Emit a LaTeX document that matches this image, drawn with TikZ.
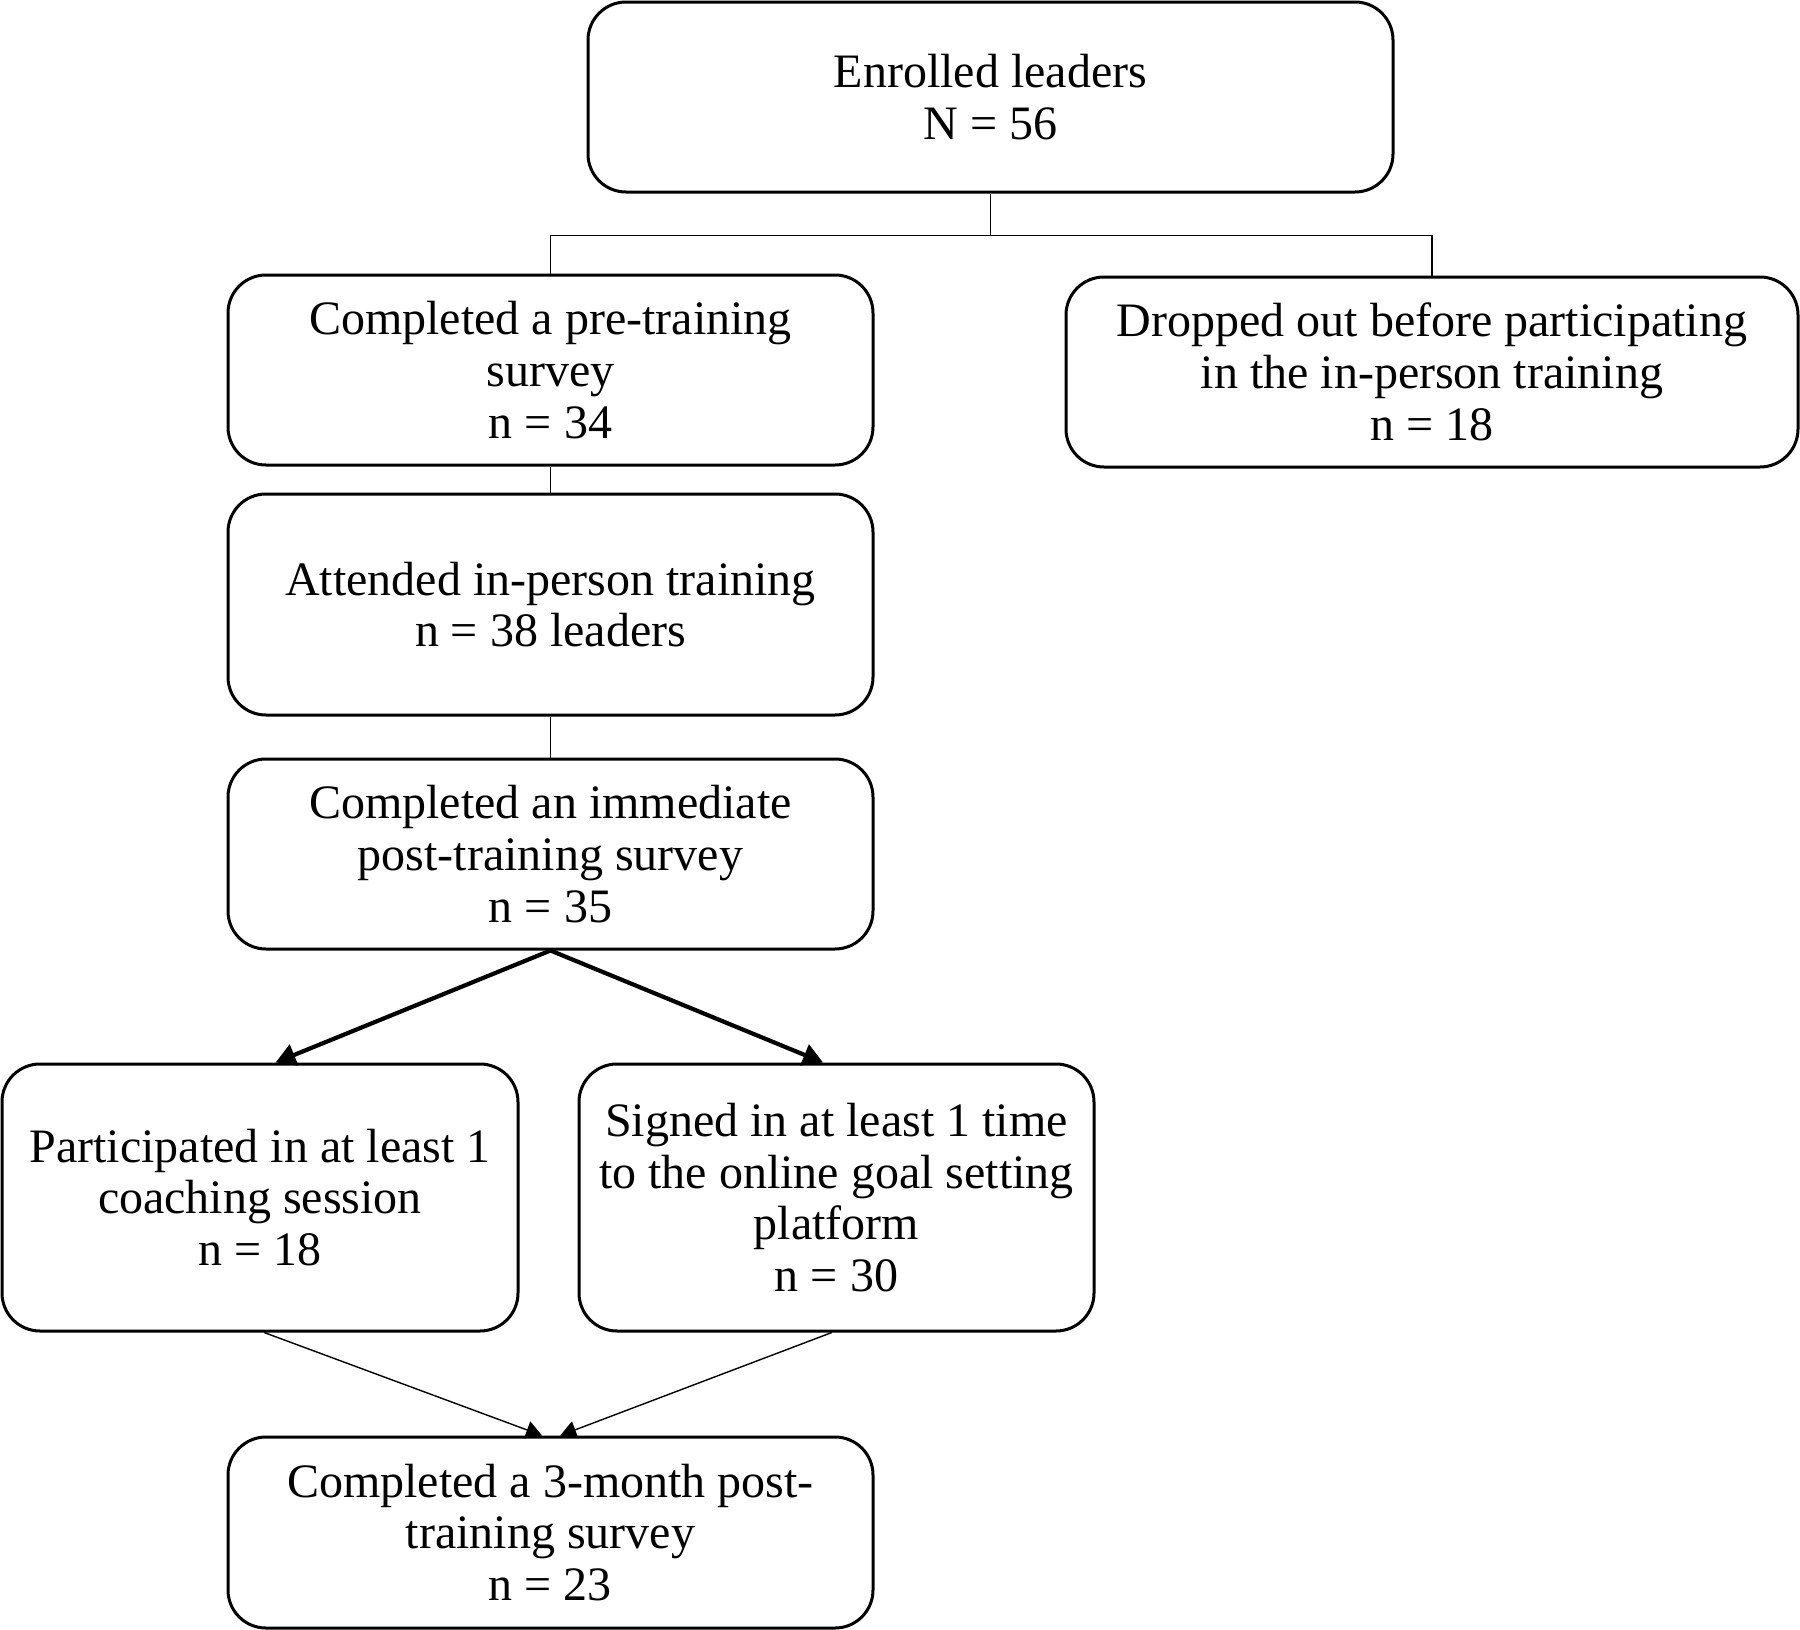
\documentclass[tikz,border=0pt]{standalone}
\usepackage{fontspec}
\setmainfont{Liberation Serif}
\usetikzlibrary{arrows.meta,calc}
\begin{document}
\begin{tikzpicture}[x=1pt,y=-1pt,
  box/.style={draw, line width=3pt, rounded corners=38pt, align=center,
    font=\fontsize{48}{51.7}\selectfont, inner sep=0pt},
  thinline/.style={line width=1.4pt},
  thinarrow/.style={line width=1.4pt, -{Triangle[length=16pt,width=18pt]}},
  thickarrow/.style={line width=4.2pt, -{Triangle[length=20pt,width=22pt]}}]
\useasboundingbox (0,0) rectangle (1800,1630);

\node[box, minimum width=805pt, minimum height=190pt] (enr) at (990.5,97)
  {Enrolled leaders\\N = 56};
\node[box, minimum width=645pt, minimum height=190pt] (pre) at (550.5,370)
  {Completed a pre-training\\survey\\n = 34};
\node[box, minimum width=732pt, minimum height=190pt] (drop) at (1432,372)
  {Dropped out before participating\\in the in-person training\\n = 18};
\node[box, minimum width=645pt, minimum height=221pt] (att) at (550.5,604.5)
  {Attended in-person training\\n = 38 leaders};
\node[box, minimum width=645pt, minimum height=190pt] (imm) at (550.5,854)
  {Completed an immediate\\post-training survey\\n = 35};
\node[box, minimum width=516pt, minimum height=267pt] (coach) at (260,1197.5)
  {Participated in at least 1\\coaching session\\n = 18};
\node[box, minimum width=515pt, minimum height=267pt] (sign) at (836.5,1197.5)
  {Signed in at least 1 time\\to the online goal setting\\platform\\n = 30};
\node[box, minimum width=645pt, minimum height=191pt] (three) at (550.5,1532.5)
  {Completed a 3-month post-\\training survey\\n = 23};

\coordinate (j) at ($(enr.south)+(0,42)$);
\draw[thinline] (enr.south) -- (j);
\draw[thinline] (pre.north) |- (j) -| (drop.north);
\draw[thinline] (pre) -- (att);
\draw[thinline] (att) -- (imm);

\draw[thickarrow] (imm.south) -- ($(coach.north west)!0.53!(coach.north east)$);
\draw[thickarrow] (imm.south) -- ($(sign.north west)!0.474!(sign.north east)$);

\draw[thinarrow] ($(coach.south west)!0.508!(coach.south east)$) -- ($(three.north west)!0.487!(three.north east)$);
\draw[thinarrow] ($(sign.south west)!0.491!(sign.south east)$) -- ($(three.north west)!0.515!(three.north east)$);
\end{tikzpicture}
\end{document}
